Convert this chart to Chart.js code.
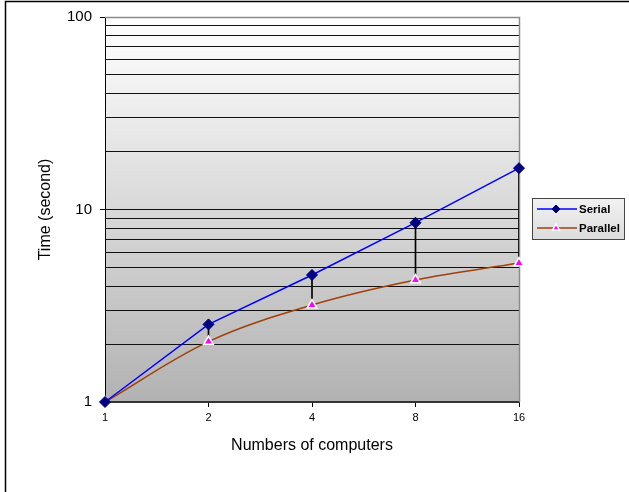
<!DOCTYPE html>
<html>
<head>
<meta charset="utf-8">
<script src="https://cdn.jsdelivr.net/npm/chart.js@4/dist/chart.umd.min.js"></script>
<style>
  html, body { margin: 0; padding: 0; background: #fff; }
  #wrap { position: relative; width: 629px; height: 492px; }
</style>
</head>
<body>
<div id="wrap"><canvas id="c" width="629" height="492"></canvas></div>
<script>
const categories = ['1', '2', '4', '8', '16'];
const serialTimes = [1, 2.53, 4.57, 8.54, 16.4];
const parallelTimes = [1, 2.06, 3.19, 4.3, 5.27];
const yMajorTicks = [1, 10, 100];
const seriesNames = ['Serial', 'Parallel'];
const axisTitles = { x: 'Numbers of computers', y: 'Time (second)' };

const FONT = '"Liberation Sans", Arial, sans-serif';

const backgroundPlugin = {
  id: 'bg',
  beforeDraw(chart) {
    const { ctx, chartArea: a } = chart;
    ctx.save();
    ctx.strokeStyle = '#000';
    ctx.lineWidth = 1.5;
    ctx.beginPath();
    ctx.moveTo(5.5, 492);
    ctx.lineTo(5.5, 1.5);
    ctx.lineTo(629, 1.5);
    ctx.stroke();
    const g = ctx.createLinearGradient(0, a.top, 0, a.bottom);
    g.addColorStop(0, '#ffffff');
    g.addColorStop(1, '#b2b2b2');
    ctx.fillStyle = g;
    ctx.fillRect(a.left, a.top, a.right - a.left, a.bottom - a.top);
    ctx.restore();
  },
  beforeDatasetsDraw(chart) {
    const { ctx, chartArea: a } = chart;
    ctx.save();
    ctx.strokeStyle = '#8c8c8c';
    ctx.lineWidth = 1.5;
    ctx.beginPath();
    ctx.moveTo(a.left, a.top + 0.5);
    ctx.lineTo(a.right + 0.5, a.top + 0.5);
    ctx.lineTo(a.right + 0.5, a.bottom);
    ctx.stroke();
    ctx.restore();
  },
  afterDraw(chart) {
    const { ctx } = chart;
    const x0 = 532, y0 = 198, w = 92, h = 41;
    ctx.save();
    const g = ctx.createLinearGradient(0, y0, 0, y0 + h);
    g.addColorStop(0, '#f2f2f2');
    g.addColorStop(1, '#dcdcdc');
    ctx.fillStyle = g;
    ctx.fillRect(x0, y0, w, h);
    ctx.strokeStyle = '#444';
    ctx.lineWidth = 1;
    ctx.strokeRect(x0 + 0.5, y0 + 0.5, w, h);
    const rows = [209, 228];
    chart.data.datasets.filter(d => d.type === 'line').forEach((ds, i) => {
      const y = rows[i];
      ctx.strokeStyle = ds.borderColor;
      ctx.lineWidth = 1.5;
      ctx.beginPath();
      ctx.moveTo(537, y);
      ctx.lineTo(577, y);
      ctx.stroke();
      ctx.fillStyle = ds.pointBackgroundColor;
      ctx.strokeStyle = ds.pointBorderColor;
      ctx.lineWidth = ds.pointBorderWidth;
      Chart.helpers.drawPoint(ctx, {
        pointStyle: ds.pointStyle, rotation: 0,
        radius: ds.pointRadius - 1.5, borderWidth: ds.pointBorderWidth
      }, 556, y);
      ctx.fillStyle = '#000';
      ctx.font = 'bold 11.5px ' + FONT;
      ctx.textAlign = 'left';
      ctx.textBaseline = 'middle';
      ctx.fillText(ds.label, 579, y + 0.5);
    });
    ctx.restore();
  }
};

const chart = new Chart(document.getElementById('c'), {
  type: 'line',
  data: {
    labels: categories,
    datasets: [
      {
        type: 'line',
        label: seriesNames[0],
        data: serialTimes,
        borderColor: '#0000ff',
        borderWidth: 1.5,
        pointStyle: 'rectRot',
        pointRadius: 5.5,
        pointBackgroundColor: '#000080',
        pointBorderColor: '#000080',
        pointBorderWidth: 1,
        tension: 0,
        clip: false,
        order: 1
      },
      {
        type: 'line',
        label: seriesNames[1],
        data: parallelTimes,
        borderColor: '#a0400a',
        borderWidth: 1.5,
        pointStyle: 'triangle',
        pointRadius: 5.5,
        pointBackgroundColor: '#ff00ff',
        pointBorderColor: '#ffffff',
        pointBorderWidth: 1.5,
        tension: 0.35,
        clip: false,
        order: 2
      },
      {
        type: 'bar',
        label: 'hilo',
        data: categories.map((c, i) => [parallelTimes[i], serialTimes[i]]),
        backgroundColor: '#000',
        borderWidth: 0,
        barThickness: 1,
        order: 3
      }
    ]
  },
  options: {
    responsive: false,
    animation: false,
    events: [],
    layout: { padding: { left: 0, top: 17, right: 110, bottom: 0 } },
    plugins: { legend: { display: false }, tooltip: { enabled: false } },
    scales: {
      x: {
        type: 'category',
        offset: false,
        afterFit(s) { s.height = 90; },
        grid: { offset: false, drawOnChartArea: false, drawTicks: true, tickLength: 5, tickColor: '#000', lineWidth: 1 },
        border: { display: true, color: '#333', width: 2 },
        ticks: { color: '#000', font: { family: FONT, size: 11 }, padding: 4, maxRotation: 0, autoSkip: false },
        title: { display: true, text: axisTitles.x, color: '#000', font: { family: FONT, size: 16 }, padding: { top: 0, bottom: 37 } }
      },
      y: {
        type: 'logarithmic',
        min: 1,
        max: 100,
        afterFit(s) { s.width = 105; },
        afterBuildTicks(s) {
          const t = [];
          for (let d = 1; d < 100; d *= 10) for (let k = 1; k < 10; k++) t.push({ value: d * k });
          t.push({ value: 100 });
          s.ticks = t;
        },
        grid: {
          drawOnChartArea: true,
          drawTicks: true,
          tickLength: 5,
          lineWidth: 1,
          color: (ctx) => (ctx.tick && ctx.tick.value === 100) ? '#8c8c8c' : (ctx.tick && ctx.tick.value === 1 ? 'rgba(0,0,0,0)' : '#111'),
          tickColor: (ctx) => (ctx.tick && yMajorTicks.includes(ctx.tick.value)) ? '#000' : 'rgba(0,0,0,0)'
        },
        border: { display: true, color: '#000', width: 1 },
        ticks: {
          autoSkip: false,
          color: '#000',
          font: { family: FONT, size: 15 },
          padding: 8,
          callback: (v) => yMajorTicks.includes(v) ? String(v) : ''
        },
        title: { display: true, text: axisTitles.y, color: '#000', font: { family: FONT, size: 16 }, padding: { top: 36, bottom: 0 } }
      }
    }
  },
  plugins: [backgroundPlugin]
});
</script>
</body>
</html>
